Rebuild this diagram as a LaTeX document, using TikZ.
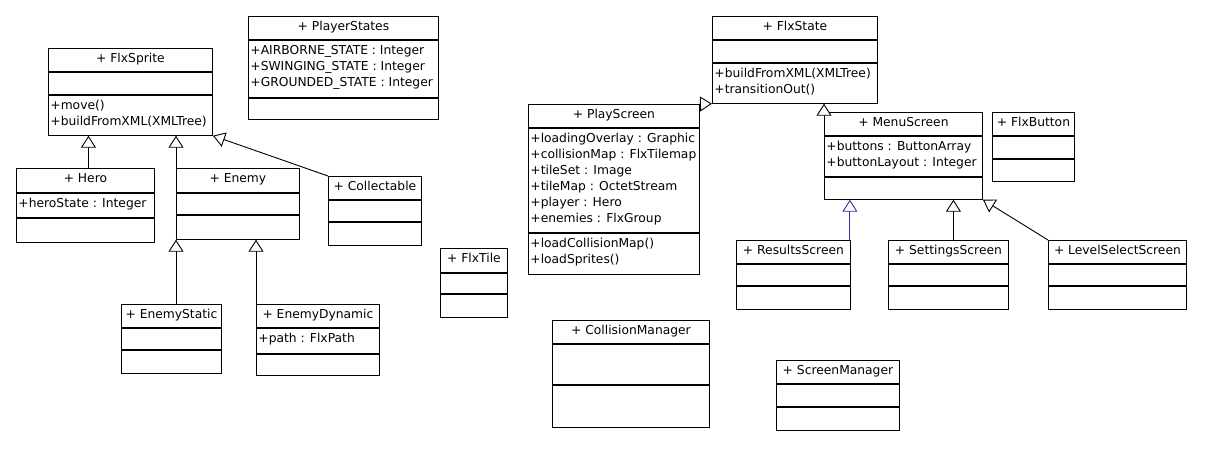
\documentclass[tikz,border=0pt]{standalone}
\usepackage{fontspec}
\setmainfont{DejaVu Sans}
\usetikzlibrary{arrows.meta}

\definecolor{umlblue}{RGB}{51,51,153}

\tikzset{
	classpart/.style={draw,line width=0.9pt,inner sep=0pt},
	inherit/.style={-{Triangle[length=12pt,width=15pt,fill=white]},line width=0.9pt},
}

% #1 name, #2 position, #3 width, #4-#6 heights, #7 title, #8 attributes, #9 operations
\newcommand{\umlclass}[9]{%
	\node[classpart,anchor=north west] (#1) at #2 {\parbox[c][#4pt][t]{#3pt}{\centering\rule{0pt}{14pt}#7}};
	\node[classpart,inner xsep=2pt,anchor=north] (#1-a) at (#1.south) {\parbox[c][#5pt][t]{\dimexpr#3pt-4pt\relax}{\rule{0pt}{14pt}#8}};
	\node[classpart,inner xsep=2pt,anchor=north] (#1-o) at (#1-a.south) {\parbox[c][#6pt][t]{\dimexpr#3pt-4pt\relax}{\rule{0pt}{14pt}#9}};
}

\begin{document}
\begin{tikzpicture}[x=1pt,y=-1pt,font=\fontsize{12.3pt}{16pt}\selectfont]
		\useasboundingbox (0,0) rectangle (1211,450);

		% sprites
		\umlclass{FlxSprite}{(48,48)}{164}{23}{22}{40}{+ FlxSprite}{}{+move()\\+buildFromXML(XMLTree)}
		\umlclass{PlayerStates}{(248,16)}{190}{23}{57}{21}{+ PlayerStates}{+AIRBORNE\_STATE : Integer\\+SWINGING\_STATE : Integer\\+GROUNDED\_STATE : Integer}{}
		\umlclass{Hero}{(16,168)}{138}{24}{24}{24}{+ Hero}{+heroState : Integer}{}
		\umlclass{Enemy}{(176,168)}{123}{24}{21}{24}{+ Enemy}{}{}
		\umlclass{Collectable}{(328,176)}{93}{23}{21}{23}{+ Collectable}{}{}
		\umlclass{EnemyStatic}{(121,304)}{100}{23}{21}{23}{+ EnemyStatic}{}{}
		\umlclass{EnemyDynamic}{(256,304)}{123}{23}{25}{21}{+ EnemyDynamic}{+path : FlxPath}{}
		\umlclass{FlxTile}{(440,248)}{67}{24}{20}{23}{+ FlxTile}{}{}

		% screens
		\umlclass{FlxState}{(712,16)}{165}{23}{22}{40}{+ FlxState}{}{+buildFromXML(XMLTree)\\+transitionOut()}
		\umlclass{PlayScreen}{(528,104)}{171}{23}{104}{41}{+ PlayScreen}{+loadingOverlay : Graphic\\+collisionMap : FlxTilemap\\+tileSet : Image\\+tileMap : OctetStream\\+player : Hero\\+enemies : FlxGroup}{+loadCollisionMap()\\+loadSprites()}
		\umlclass{MenuScreen}{(824,112)}{158}{23}{40}{22}{+ MenuScreen}{+buttons : ButtonArray\\+buttonLayout : Integer}{}
		\umlclass{FlxButton}{(992,112)}{82}{23}{22}{22}{+ FlxButton}{}{}
		\umlclass{ResultsScreen}{(736,240)}{114}{23}{21}{23}{+ ResultsScreen}{}{}
		\umlclass{SettingsScreen}{(888,240)}{120}{23}{21}{23}{+ SettingsScreen}{}{}
		\umlclass{LevelSelectScreen}{(1048,240)}{138}{23}{21}{23}{+ LevelSelectScreen}{}{}
		\umlclass{CollisionManager}{(552,320)}{157}{23}{40}{42}{+ CollisionManager}{}{}
		\umlclass{ScreenManager}{(776,360)}{123}{23}{22}{23}{+ ScreenManager}{}{}

		% inheritance
		\draw[inherit] ([xshift=3pt]Hero.north) -- ([xshift=3pt]Hero.north |- FlxSprite-o.south);
		\draw[inherit] (Enemy.north west) -- (Enemy.north west |- FlxSprite-o.south);
		\draw[inherit] (Collectable.north west) -- (FlxSprite-o.south east);
		\draw[inherit] (Enemy-o.south west |- EnemyStatic.north) -- (Enemy-o.south west);
		\draw[inherit] (EnemyDynamic.north west) -- (EnemyDynamic.north west |- Enemy-o.south);

		\draw[inherit] (PlayScreen.north east) -- (FlxState-o.south west);
		\draw[inherit] (MenuScreen.north west) -- (MenuScreen.north west |- FlxState-o.south);
		\draw[inherit,umlblue] ([xshift=-1pt]ResultsScreen.north east) -- ([xshift=-1pt]ResultsScreen.north east |- MenuScreen-o.south);
		\draw[inherit] ([xshift=5pt]SettingsScreen.north) -- ([xshift=5pt]SettingsScreen.north |- MenuScreen-o.south);
		\draw[inherit] (LevelSelectScreen.north west) -- (MenuScreen-o.south east);

\end{tikzpicture}
\end{document}
